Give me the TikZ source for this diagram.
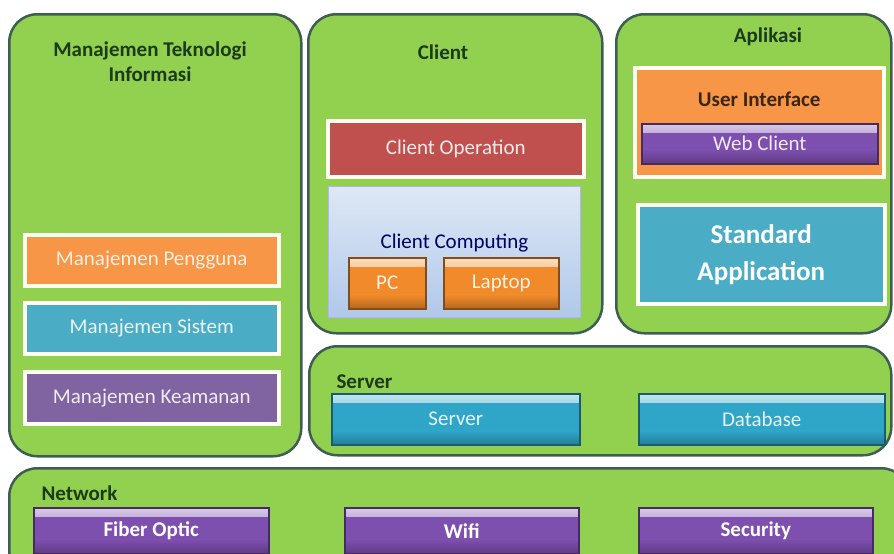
\documentclass[tikz,border=0pt]{standalone}
\usepackage{fontspec}
\setmainfont{Carlito}
\usetikzlibrary{positioning}
\usetikzlibrary{shadows}

\definecolor{panelgreen}{HTML}{92D050}
\definecolor{panelline}{HTML}{3E5E52}
\definecolor{titletext}{HTML}{1C3A1C}
\definecolor{boxrim}{HTML}{FFFFF2}
\definecolor{orangebox}{HTML}{F79646}
\definecolor{aquabox}{HTML}{4BACC6}
\definecolor{purplebox}{HTML}{8064A2}
\definecolor{redbox}{HTML}{C0504D}
\definecolor{aquabtn}{HTML}{2FA6C8}
\definecolor{purplebtn}{HTML}{7D4FAE}
\definecolor{orangebtn}{HTML}{F08A2A}

\tikzset{
  panel/.style={draw=panelline, line width=2.5, fill=panelgreen, rounded corners=28, anchor=north west, inner sep=0},
  paneltitle/.style={font=\fontsize{21}{25}\selectfont\bfseries, text=titletext, align=center},
  box/.style={draw=boxrim, line width=3.5, anchor=north west, inner sep=0, font=\fontsize{21}{25}\selectfont,
    drop shadow={opacity=.25, shadow xshift=1pt, shadow yshift=-2pt}},
  button/.style={line width=1.5, anchor=north west, inner sep=0, font=\fontsize{21}{25}\selectfont,
    draw=#1!55!black, fill=#1, text=#1!12!white,
    path picture={
      \fill[top color=#1!30!white, bottom color=#1] (path picture bounding box.north west) rectangle ([yshift=-9pt]path picture bounding box.north east);
      \fill[top color=#1, bottom color=#1!75!black] ([yshift=14pt]path picture bounding box.south west) rectangle (path picture bounding box.south east);
    }},
  aquabutton/.style={button=aquabtn},
  purplebutton/.style={button=purplebtn, text=white, font=\fontsize{21}{25}\selectfont\bfseries},
  orangebutton/.style={button=orangebtn}
}

\begin{document}
\begin{tikzpicture}[x=1pt, y=-1pt]
\useasboundingbox (0,0) rectangle (894,554);

% panels
\node[panel, minimum width=292, minimum height=442] (mti) at (8,13) {};
\node[panel, minimum width=294, minimum height=319] (client) at (307,13) {};
\node[panel, minimum width=275, minimum height=319] (apps) at (615,13) {};
\node[panel, minimum width=582, minimum height=109] (srv) at (308,345) {};
\node[panel, minimum width=900, minimum height=110] (net) at (8,467) {};

% titles
\node[paneltitle] (mti-title) at (150,62) {Manajemen Teknologi\\Informasi};
\node[paneltitle] (client-title) at (443,52) {Client};
\node[paneltitle] (apps-title) at (768,37) {Aplikasi};
\node[paneltitle, anchor=west] (srv-title) at (333,382) {Server};
\node[paneltitle, anchor=west] (net-title) at (38,493) {Network};

% Manajemen Teknologi Informasi
\node[box, fill=orangebox, text=orangebox!15!white, minimum width=254, minimum height=51] (pengguna) at (23,233) {Manajemen Pengguna};
\node[box, fill=aquabox, text=aquabox!12!white, minimum width=254, minimum height=51] (sistem) at (23,301) {Manajemen Sistem};
\node[box, fill=purplebox, text=purplebox!12!white, minimum width=254, minimum height=52] (keamanan) at (23,370) {Manajemen Keamanan};

% Client
\node[box, fill=redbox, text=redbox!12!white, minimum width=256, minimum height=56] (cop) at (326,119) {Client Operation};
\node[draw=white!70!blue, line width=1, top color={rgb,255:red,222;green,232;blue,245}, bottom color={rgb,255:red,176;green,200;blue,234}, anchor=north west,
  minimum width=252, minimum height=131] (cc) at (328,186) {};
\node[font=\fontsize{21}{25}\selectfont, text=blue!40!black, below=44pt of cc.north] (cc-label) {Client Computing};
\node[orangebutton, minimum width=77, minimum height=51] (pc) at (348,257) {PC};
\node[orangebutton, minimum width=115, minimum height=51] (laptop) at (443,257) {Laptop};

% Aplikasi
\node[box, fill=orangebox, minimum width=249, minimum height=109] (ui) at (633,66) {};
\node[paneltitle, text=orangebox!25!black, below=22pt of ui.north] (ui-label) {User Interface};
\node[button=purplebtn, minimum width=236, minimum height=40] (web) at (641,123) {Web Client};
\node[box, fill=aquabox, text=white, align=center, font=\fontsize{27}{37}\selectfont\bfseries,
  minimum width=247, minimum height=99] (stdapp) at (636,203) {Standard\\Application};

% Server
\node[aquabutton, minimum width=248, minimum height=51] (server) at (331,393) {Server};
\node[aquabutton, minimum width=246, minimum height=51] (db) at (638,393) {Database};

% Network
\node[purplebutton, minimum width=235, minimum height=46] (fiber) at (33,507) {Fiber Optic};
\node[purplebutton, minimum width=234, minimum height=46] (wifi) at (344,507) {Wifi};
\node[purplebutton, minimum width=234, minimum height=46] (security) at (638,507) {Security};

\end{tikzpicture}
\end{document}
